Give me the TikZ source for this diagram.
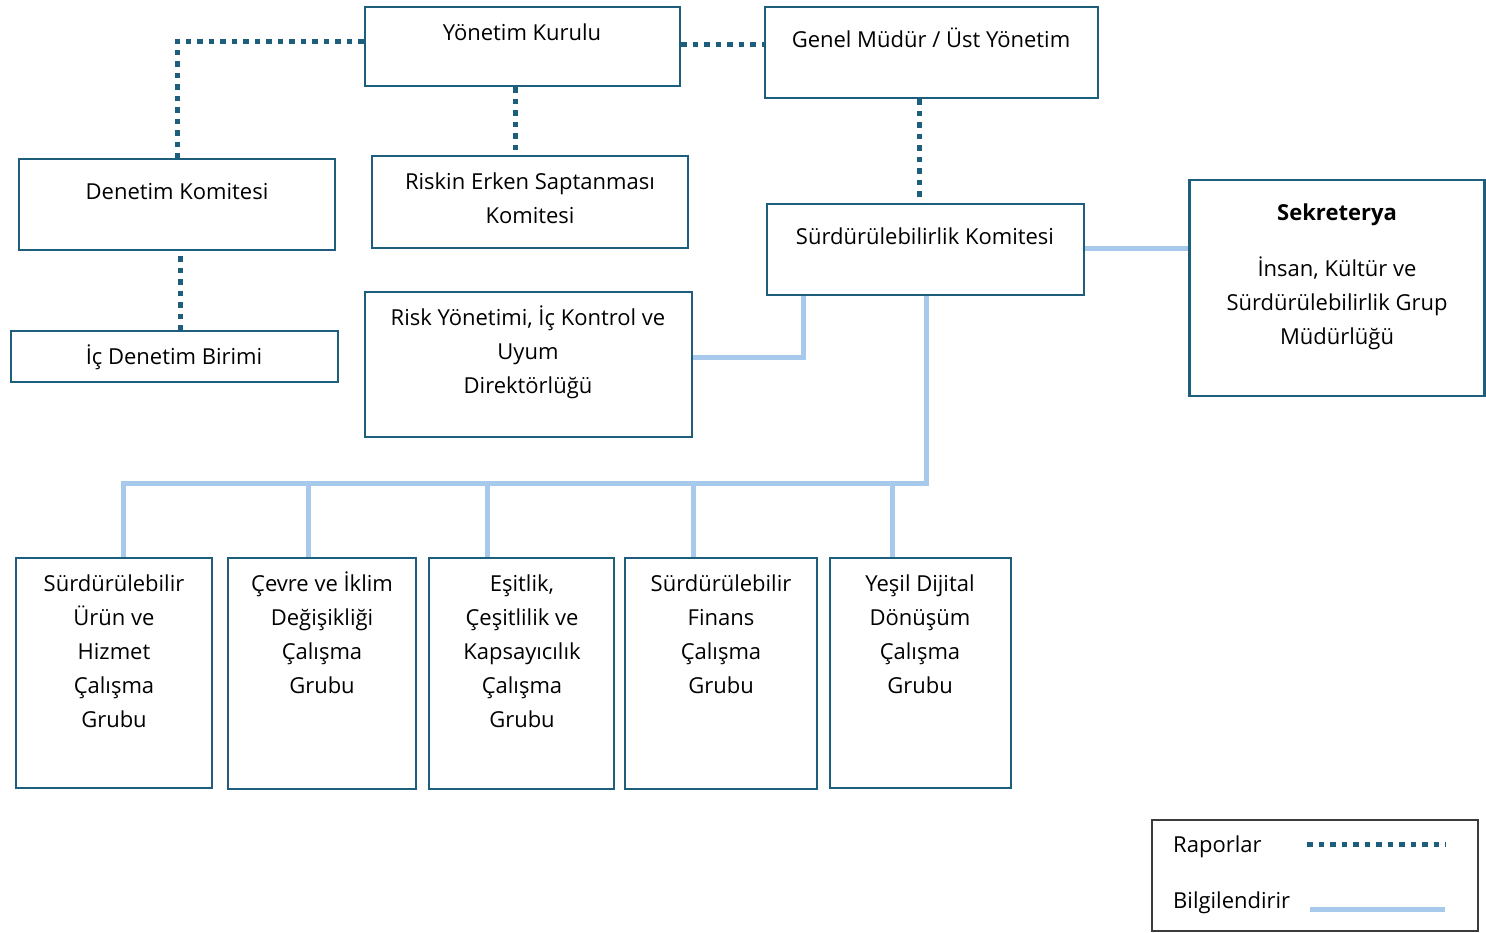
\documentclass[tikz,border=0pt]{standalone}
\usepackage{fontspec}
\setmainfont{Open Sans}
\definecolor{dk}{RGB}{30,94,125}
\definecolor{lb}{RGB}{166,201,236}
\definecolor{lgd}{RGB}{60,60,60}
\begin{document}
\begin{tikzpicture}[x=1pt,y=-1pt,
  box/.style={draw=dk, line width=2.2pt, rectangle, inner sep=0pt, fill=white},
  txt/.style={font=\fontsize{22}{34}\selectfont, align=center, anchor=base, inner sep=0pt, text=black},
  ltxt/.style={font=\fontsize{22}{34}\selectfont, anchor=base west, inner sep=0pt, text=black},
  rep/.style={draw=dk, line width=5pt, dash pattern=on 5.5pt off 6pt},
  inf/.style={draw=lb, line width=5pt}]
\useasboundingbox (0,0) rectangle (1486,932);
\coordinate (bus) at (926,483);
% boxes
\node[box, minimum width=315pt, minimum height=79pt] (yk) at (522.5,46.5) {};
\node[box, minimum width=333pt, minimum height=91pt] (gm) at (931.5,52.5) {};
\node[box, minimum width=316pt, minimum height=91pt] (den) at (177,204.5) {};
\node[box, minimum width=316pt, minimum height=92pt] (rek) at (530,202) {};
\node[box, minimum width=317pt, minimum height=91pt] (sk) at (925.5,249.5) {};
\node[box, minimum width=295pt, minimum height=216pt] (sek) at (1337,288) {};
\node[box, minimum width=327pt, minimum height=51pt] (idb) at (174.5,356.5) {};
\node[box, minimum width=327pt, minimum height=145pt] (ryk) at (528.5,364.5) {};
\node[box, minimum width=196pt, minimum height=230pt] (b1) at (114,673) {};
\node[box, minimum width=188pt, minimum height=231pt] (b2) at (322,673.5) {};
\node[box, minimum width=185pt, minimum height=231pt] (b3) at (521.5,673.5) {};
\node[box, minimum width=192pt, minimum height=231pt] (b4) at (721,673.5) {};
\node[box, minimum width=181pt, minimum height=230pt] (b5) at (920.5,673) {};
\node[draw=lgd, line width=1.3pt, rectangle, inner sep=0pt, minimum width=326pt, minimum height=111pt] (leg) at (1315,875.5) {};
% texts (anchor base = baseline of the last line)
\node[txt] (tyk) at (522,40.5) {Yönetim Kurulu};
\node[txt] (tgm) at (931,47.5) {Genel Müdür / Üst Yönetim};
\node[txt] (tden) at (177,199.5) {Denetim Komitesi};
\node[txt] (trek) at (530,223.5) {Riskin Erken Saptanması\\Komitesi};
\node[txt] (tsk) at (925,244.5) {Sürdürülebilirlik Komitesi};
\node[txt] (tsek) at (1337,220.5) {\bfseries Sekreterya};
\node[txt] (tsek2) at (1337,344.5) {İnsan, Kültür ve\\Sürdürülebilirlik Grup\\Müdürlüğü};
\node[txt] (tidb) at (174,364.5) {İç Denetim Birimi};
\node[txt] (tryk) at (528,393.5) {Risk Yönetimi, İç Kontrol ve\\Uyum\\Direktörlüğü};
\node[txt] (tb1) at (114,727.5) {Sürdürülebilir\\Ürün ve\\Hizmet\\Çalışma\\Grubu};
\node[txt] (tb2) at (322,693.5) {Çevre ve İklim\\Değişikliği\\Çalışma\\Grubu};
\node[txt] (tb3) at (522,727.5) {Eşitlik,\\Çeşitlilik ve\\Kapsayıcılık\\Çalışma\\Grubu};
\node[txt] (tb4) at (721,693.5) {Sürdürülebilir\\Finans\\Çalışma\\Grubu};
\node[txt] (tb5) at (920,693.5) {Yeşil Dijital\\Dönüşüm\\Çalışma\\Grubu};
\node[ltxt] (lr) at (1173,852.5) {Raporlar};
\node[ltxt] (lb) at (1173,908.5) {Bilgilendirir};
\coordinate (lr1) at (1307,844);
\coordinate (lr2) at (1446,844);
\coordinate (lb1) at (1310,909);
\coordinate (lb2) at (1445,909);
% connectors
\draw[rep] ([yshift=5.5pt]yk.west) -| (den.north);
\draw[rep] ([yshift=2.5pt]yk.east) -- ([yshift=2.5pt]yk.east -| gm.west);
\draw[rep] ([xshift=-7.5pt]yk.south) -- ([xshift=-7.5pt]yk.south |- rek.north);
\draw[rep] ([xshift=-12.5pt]gm.south) -- ([xshift=-12.5pt]gm.south |- sk.north);
\draw[rep] ([xshift=3pt,yshift=-5pt]den.south) -- ([xshift=3pt]den.south |- idb.north);
\draw[inf] ([yshift=1.5pt]sk.east) -- ([yshift=1.5pt]sk.east -| sek.west);
\draw[inf] ([xshift=-122.5pt]sk.south) |- ([yshift=7.5pt]ryk.east);
\draw[inf, line join=miter] (sk.south -| bus) -- (bus) -- ([xshift=9pt]bus -| b1.north) -- ([xshift=9pt]b1.north);
\draw[inf] ([xshift=-14pt]bus -| b2.north) -- ([xshift=-14pt]b2.north);
\draw[inf] ([xshift=-34.5pt]bus -| b3.north) -- ([xshift=-34.5pt]b3.north);
\draw[inf] ([xshift=-28pt]bus -| b4.north) -- ([xshift=-28pt]b4.north);
\draw[inf] ([xshift=-28.5pt]bus -| b5.north) -- ([xshift=-28.5pt]b5.north);
\draw[rep] (lr1) -- (lr2);
\draw[inf] (lb1) -- (lb2);
\end{tikzpicture}
\end{document}
